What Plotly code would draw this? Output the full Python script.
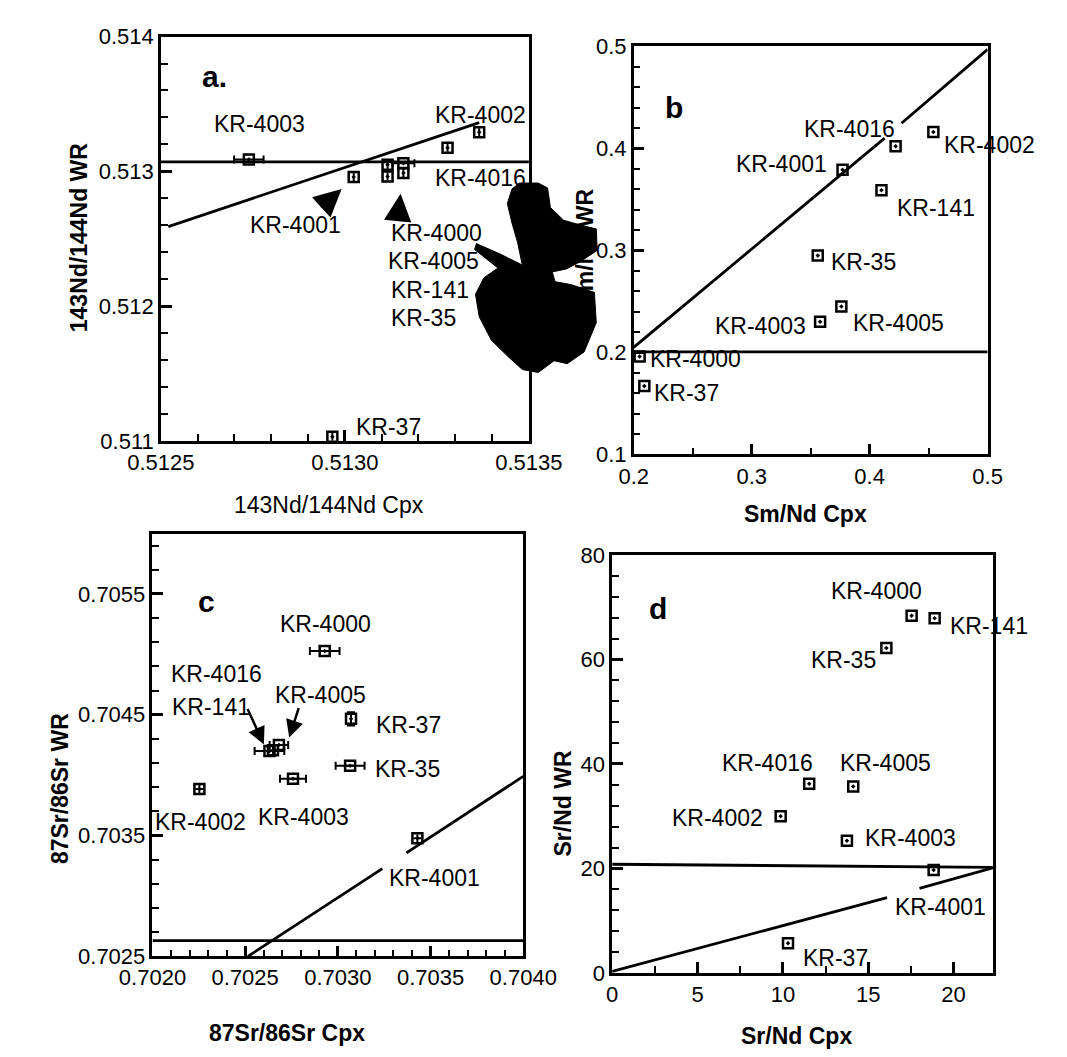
import plotly.graph_objects as go

W, H = 1067, 1057
FONT = "Liberation Sans, Arial, sans-serif"

# ---------------- data ----------------
samples = ["KR-4000", "KR-4001", "KR-4002", "KR-4003", "KR-4005",
           "KR-4016", "KR-141", "KR-35", "KR-37"]

# panel a : 143Nd/144Nd
nd_cpx = [0.513116, 0.513024, 0.513365, 0.512739, 0.513116,
          0.513279, 0.513159, 0.513159, 0.512966]
nd_wr = [0.513049, 0.512958, 0.513290, 0.513087, 0.512962,
         0.513175, 0.513060, 0.512988, 0.511030]
nd_cpx_err = [0, 0, 0, 0.00004, 0, 0, 0.00003, 0, 0]
a_hline_x = [0.5125, 0.51351]
a_hline_y = [0.51307, 0.51307]
a_slope_x = [0.51252, 0.513365]
a_slope_y = [0.51259, 0.513362]

# panel b : Sm/Nd
smnd_cpx = [0.205, 0.377, 0.454, 0.358, 0.376, 0.422, 0.410, 0.356, 0.209]
smnd_wr = [0.196, 0.379, 0.416, 0.230, 0.245, 0.402, 0.359, 0.295, 0.167]
b_hline_x = [0.2, 0.5]
b_hline_y = [0.2005, 0.2005]
b_slope1_x = [0.2, 0.4127]
b_slope1_y = [0.205, 0.410]
b_slope2_x = [0.427, 0.5]
b_slope2_y = [0.4247, 0.497]

# panel c : 87Sr/86Sr
sr_cpx = [0.702929, 0.703429, 0.702253, 0.702758, 0.702682,
          0.702650, 0.702631, 0.703066, 0.703071]
sr_wr = [0.705027, 0.703477, 0.703886, 0.703970, 0.704250,
         0.704205, 0.704199, 0.704078, 0.704466]
sr_cpx_err = [0.00008, 0, 0, 0.00007, 0.00005, 0, 0.00008, 0.000078, 0]
sr_wr_err = [0, 0, 0, 0, 0, 0, 0, 0, 0.000055]
c_hline_x = [0.7020, 0.7040]
c_hline_y = [0.70263, 0.70263]
c_slope1_x = [0.702515, 0.70324]
c_slope1_y = [0.7025, 0.703226]
c_slope2_x = [0.70337, 0.7040]
c_slope2_y = [0.703357, 0.70399]

# panel d : Sr/Nd
srnd_cpx = [17.54, 18.83, 9.87, 13.75, 14.12, 11.54, 18.89, 16.06, 10.3]
srnd_wr = [68.4, 19.7, 30.0, 25.3, 35.7, 36.2, 67.9, 62.2, 5.7]
d_hline_x = [0, 22.3]
d_hline_y = [20.8, 20.2]
d_slope1_x = [0, 16.1]
d_slope1_y = [0.3, 14.4]
d_slope2_x = [18.0, 22.3]
d_slope2_y = [16.2, 20.1]


def P(px, py):
    return px / W, 1 - py / H


fig = go.Figure()

marker = dict(symbol="square-open-dot", size=10, color="black",
              line=dict(color="black", width=2.5))
lstyle = dict(color="black", width=2.8)


def add_lines(xs, ys, xa, ya):
    fig.add_trace(go.Scatter(x=xs, y=ys, mode="lines", line=lstyle,
                             xaxis=xa, yaxis=ya, showlegend=False,
                             hoverinfo="skip"))


# panel a
add_lines(a_hline_x, a_hline_y, "x", "y")
add_lines(a_slope_x, a_slope_y, "x", "y")
fig.add_trace(go.Scatter(x=nd_cpx, y=nd_wr, mode="markers", marker=marker,
                         text=samples, xaxis="x", yaxis="y", showlegend=False,
                         cliponaxis=False,
                         error_x=dict(type="data", array=nd_cpx_err,
                                      color="black", thickness=2, width=4)))
# panel b
add_lines(b_hline_x, b_hline_y, "x2", "y2")
add_lines(b_slope1_x, b_slope1_y, "x2", "y2")
add_lines(b_slope2_x, b_slope2_y, "x2", "y2")
fig.add_trace(go.Scatter(x=smnd_cpx, y=smnd_wr, mode="markers", marker=marker,
                         text=samples, xaxis="x2", yaxis="y2",
                         showlegend=False, cliponaxis=False))
# panel c
add_lines(c_hline_x, c_hline_y, "x3", "y3")
add_lines(c_slope1_x, c_slope1_y, "x3", "y3")
add_lines(c_slope2_x, c_slope2_y, "x3", "y3")
fig.add_trace(go.Scatter(x=sr_cpx, y=sr_wr, mode="markers", marker=marker,
                         text=samples, xaxis="x3", yaxis="y3",
                         showlegend=False, cliponaxis=False,
                         error_x=dict(type="data", array=sr_cpx_err,
                                      color="black", thickness=2, width=4),
                         error_y=dict(type="data", array=sr_wr_err,
                                      color="black", thickness=2, width=4)))
# panel d
add_lines(d_hline_x, d_hline_y, "x4", "y4")
add_lines(d_slope1_x, d_slope1_y, "x4", "y4")
add_lines(d_slope2_x, d_slope2_y, "x4", "y4")
fig.add_trace(go.Scatter(x=srnd_cpx, y=srnd_wr, mode="markers", marker=marker,
                         text=samples, xaxis="x4", yaxis="y4",
                         showlegend=False, cliponaxis=False))


def axis(dom, rng, tick0, dtick, fmt, minor_dtick, anchor, horiz=True):
    lo, hi = dom
    if horiz:
        domain = [lo / W, hi / W]
    else:
        domain = [1 - hi / H, 1 - lo / H]
    span = rng[1] - rng[0]
    return dict(domain=domain, range=[rng[0] - span * 1e-6, rng[1] + span * 1e-6],
                anchor=anchor, showline=True, linecolor="black", linewidth=2.5,
                mirror=True, ticks="inside", ticklen=11, tickwidth=2.5,
                tickcolor="black", showgrid=False, zeroline=False,
                tickmode="linear", tick0=tick0, dtick=dtick, tickformat=fmt,
                tickfont=dict(family=FONT, size=22, color="black"),
                layer="above traces",
                minor=dict(ticks="inside", tickmode="linear", dtick=minor_dtick,
                           tick0=tick0, ticklen=7, tickwidth=2,
                           tickcolor="black", showgrid=False))


fig.update_layout(
    width=W, height=H, margin=dict(l=0, r=0, t=0, b=0),
    paper_bgcolor="white", plot_bgcolor="white",
    xaxis=axis((127, 520), (0.5125, 0.5135), 0.5125, 0.0005, ".4f", 0.0001, "y"),
    yaxis=axis((17, 431), (0.511, 0.514), 0.511, 0.001, ".3f", 0.0002, "x", False),
    xaxis2=axis((632, 1010), (0.2, 0.5), 0.2, 0.1, ".1f", 0.05, "y2"),
    yaxis2=axis((27, 445), (0.1, 0.5), 0.1, 0.1, ".1f", 0.02, "x2", False),
    xaxis3=axis((118, 514), (0.702, 0.704), 0.702, 0.0005, ".4f", 0.0001, "y3"),
    yaxis3=axis((526, 959), (0.7025, 0.706), 0.7025, 0.001, ".4f", 0.0002, "x3", False),
    xaxis4=axis((609, 1015.6), (0, 22.3), 0, 5, "d", 2.5, "y4"),
    yaxis4=axis((548, 976), (0, 80), 0, 20, "d", 4, "x4", False),
)

annotations = []


def txt(s, px, py, size=23, bold=False, angle=0):
    x, y = P(px, py)
    annotations.append(dict(
        x=x, y=y, xref="paper", yref="paper", showarrow=False,
        text=f"<b>{s}</b>" if bold else s, textangle=angle,
        xanchor="center", yanchor="middle",
        font=dict(family=FONT, size=size, color="black")))


def arrow(tip, tail, size=2.2):
    x, y = P(*tip)
    annotations.append(dict(
        x=x, y=y, xref="paper", yref="paper", text="", showarrow=True,
        ax=tail[0] - tip[0], ay=tail[1] - tip[1], arrowhead=2,
        arrowsize=size, arrowwidth=2.5, arrowcolor="black", standoff=0))


# panel letters
txt("a.", 184, 58, size=30, bold=True)
txt("b", 675, 90, size=30, bold=True)
txt("c", 176, 596, size=30, bold=True)
txt("d", 658, 603, size=30, bold=True)

# axis titles
txt("143Nd/144Nd WR", 39, 223, size=23, bold=True, angle=-90)
txt("143Nd/144Nd Cpx", 307, 497, size=23)
txt("Sm/Nd WR", 580, 233, size=23, bold=True, angle=-90)
txt("Sm/Nd Cpx", 816, 506, size=23, bold=True)
txt("87Sr/86Sr WR", 20, 787, size=23, bold=True, angle=-90)
txt("87Sr/86Sr Cpx", 262, 1038, size=23, bold=True)
txt("Sr/Nd WR", 557, 803, size=23, bold=True, angle=-90)
txt("Sr/Nd Cpx", 806, 1041, size=23, bold=True)

# panel a labels
for s, px, py in [("KR-4003", 232, 107), ("KR-4002", 468, 97),
                  ("KR-4016", 468, 162), ("KR-4001", 271, 210),
                  ("KR-4000", 421, 218), ("KR-4005", 418, 247),
                  ("KR-141", 414, 277), ("KR-35", 407, 305),
                  ("KR-37", 370, 417)]:
    txt(s, px, py)
arrow((320, 173), (298, 193))
arrow((383, 178), (380, 206))

# panel b labels
for s, px, py in [("KR-4016", 862, 112), ("KR-4001", 790, 147),
                  ("KR-4002", 1012, 128), ("KR-141", 955, 193),
                  ("KR-35", 877, 248), ("KR-4005", 915, 310),
                  ("KR-4003", 767, 313), ("KR-4000", 698, 347),
                  ("KR-37", 688, 382)]:
    txt(s, px, py)

# panel c labels
for s, px, py in [("KR-4000", 303, 619), ("KR-4016", 186, 670),
                  ("KR-141", 181, 704), ("KR-4005", 297, 691),
                  ("KR-37", 391, 722), ("KR-35", 390, 767),
                  ("KR-4002", 169, 821), ("KR-4003", 279, 816),
                  ("KR-4001", 419, 879)]:
    txt(s, px, py)
arrow((237, 742), (220, 705), size=1.4)
arrow((264, 735), (274, 704), size=1.4)

# panel d labels
for s, px, py in [("KR-4000", 891, 585), ("KR-141", 1011, 621),
                  ("KR-35", 856, 655), ("KR-4016", 775, 761),
                  ("KR-4005", 901, 761), ("KR-4002", 722, 817),
                  ("KR-4003", 928, 838), ("KR-4001", 960, 908),
                  ("KR-37", 848, 961)]:
    txt(s, px, py)

fig.update_layout(annotations=annotations)

# ink blot from the scanned original (decorative)
blob = [(502, 173), (510, 167), (530, 167), (540, 172), (543, 192),
        (557, 205), (575, 210), (592, 214), (593, 236), (574, 248),
        (560, 255), (545, 258), (548, 268), (565, 271), (590, 279),
        (592, 310), (579, 340), (561, 352), (547, 349), (530, 361),
        (513, 358), (497, 344), (480, 328), (467, 304), (463, 281),
        (472, 264), (487, 254), (462, 235), (464, 229), (490, 240),
        (513, 251), (508, 228), (502, 208), (497, 188)]
path = "M " + " L ".join(f"{P(a, b)[0]:.5f},{P(a, b)[1]:.5f}" for a, b in blob) + " Z"
fig.add_shape(type="path", path=path, xref="paper", yref="paper",
              fillcolor="black", line=dict(color="black", width=1),
              layer="above")

fig.write_html("out.html")
